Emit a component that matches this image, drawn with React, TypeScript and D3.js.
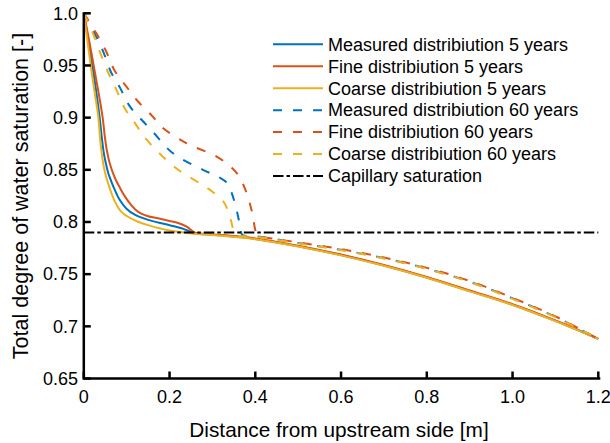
import * as d3 from "d3";

// distance [m], saturation [-]
const measured5: [number, number][] = [
  [0, 1], [0.01, 0.975], [0.02, 0.95], [0.029, 0.925], [0.037, 0.9], [0.042, 0.881],
  [0.046, 0.868], [0.051, 0.857], [0.057, 0.847], [0.064, 0.839], [0.072, 0.831],
  [0.084, 0.821], [0.099, 0.813], [0.119, 0.807], [0.15, 0.802], [0.189, 0.798],
  [0.228, 0.794], [0.259, 0.7893], [0.3, 0.7878], [0.4, 0.7838], [0.5, 0.7768],
  [0.6, 0.7683], [0.7, 0.7583], [0.8, 0.7468], [0.9, 0.7338], [1.0, 0.7207],
  [1.1, 0.7052], [1.2, 0.688],
];
const fine5: [number, number][] = [
  [0, 1], [0.012, 0.975], [0.023, 0.95], [0.034, 0.925], [0.044, 0.9], [0.049, 0.882],
  [0.054, 0.868], [0.06, 0.857], [0.067, 0.848], [0.075, 0.84], [0.084, 0.833],
  [0.095, 0.825], [0.107, 0.818], [0.12, 0.812], [0.134, 0.808], [0.15, 0.8055],
  [0.173, 0.8035], [0.2, 0.801], [0.22, 0.799], [0.24, 0.7955], [0.26, 0.7898],
  [0.3, 0.7883], [0.4, 0.7843], [0.5, 0.7773], [0.6, 0.7688], [0.7, 0.7588],
  [0.8, 0.7473], [0.9, 0.7343], [1.0, 0.7212], [1.1, 0.7056], [1.2, 0.688],
];
const coarse5: [number, number][] = [
  [0, 1], [0.008, 0.975], [0.016, 0.95], [0.025, 0.925], [0.034, 0.9], [0.038, 0.88],
  [0.042, 0.865], [0.047, 0.852], [0.053, 0.842], [0.06, 0.833], [0.072, 0.82],
  [0.087, 0.81], [0.103, 0.805], [0.125, 0.8005], [0.15, 0.797], [0.197, 0.792],
  [0.251, 0.789], [0.3, 0.7875], [0.4, 0.7835], [0.5, 0.7765], [0.6, 0.768],
  [0.7, 0.758], [0.8, 0.7465], [0.9, 0.7335], [1.0, 0.7205], [1.1, 0.705], [1.2, 0.688],
];
const measured60: [number, number][] = [
  [0, 1], [0.025, 0.981], [0.045, 0.9636], [0.063, 0.944], [0.084, 0.929], [0.107, 0.911],
  [0.138, 0.8965], [0.162, 0.886], [0.208, 0.8658], [0.279, 0.8498], [0.315, 0.843],
  [0.335, 0.837], [0.349, 0.8227], [0.36, 0.805], [0.365, 0.794], [0.37, 0.7875],
  [0.4, 0.7865], [0.5, 0.7798], [0.6, 0.7733], [0.7, 0.7653], [0.8, 0.7553],
  [0.9, 0.7428], [1.0, 0.7268], [1.1, 0.709], [1.2, 0.688],
];
const fine60: [number, number][] = [
  [0, 1], [0.029, 0.981], [0.052, 0.9636], [0.072, 0.945], [0.099, 0.93], [0.126, 0.9157],
  [0.161, 0.901], [0.182, 0.891], [0.24, 0.8754], [0.31, 0.8626], [0.345, 0.852],
  [0.362, 0.844], [0.38, 0.8275], [0.392, 0.81], [0.4, 0.7923], [0.404, 0.7875],
  [0.45, 0.7836], [0.5, 0.7805], [0.6, 0.774], [0.7, 0.766], [0.8, 0.756],
  [0.9, 0.7435], [1.0, 0.7273], [1.1, 0.7095], [1.2, 0.688],
];
const coarse60: [number, number][] = [
  [0, 1], [0.021, 0.981], [0.037, 0.9636], [0.056, 0.944], [0.076, 0.9268], [0.095, 0.9093],
  [0.119, 0.895], [0.147, 0.8786], [0.217, 0.851], [0.271, 0.837], [0.3, 0.829],
  [0.326, 0.8194], [0.341, 0.805], [0.347, 0.795], [0.352, 0.788], [0.4, 0.786],
  [0.5, 0.7795], [0.6, 0.773], [0.7, 0.765], [0.8, 0.755], [0.9, 0.7425],
  [1.0, 0.7263], [1.1, 0.7088], [1.2, 0.688],
];
const capillary: [number, number][] = [[0, 0.79], [1.2, 0.79]];

const xTicks = [0, 0.2, 0.4, 0.6, 0.8, 1.0, 1.2];
const xTickLabels = ["0", "0.2", "0.4", "0.6", "0.8", "1.0", "1.2"];
const yTicks = [0.65, 0.7, 0.75, 0.8, 0.85, 0.9, 0.95, 1.0];
const yTickLabels = ["0.65", "0.7", "0.75", "0.8", "0.85", "0.9", "0.95", "1.0"];

const legendLabels = [
  "Measured distribiution 5 years",
  "Fine distribiution 5 years",
  "Coarse distribiution 5 years",
  "Measured distribiution 60 years",
  "Fine distribiution 60 years",
  "Coarse distribiution 60 years",
  "Capillary saturation",
];

const BLUE = "#0072BD";
const ORANGE = "#D95319";
const YELLOW = "#EDB120";
const DASH = "9,11";
const DASHDOT = "10.5,3,3.5,3";

const series = [
  { data: measured5, color: BLUE, dash: undefined },
  { data: fine5, color: ORANGE, dash: undefined },
  { data: coarse5, color: YELLOW, dash: undefined },
  { data: measured60, color: BLUE, dash: DASH },
  { data: fine60, color: ORANGE, dash: DASH },
  { data: coarse60, color: YELLOW, dash: DASH },
  { data: capillary, color: "#000", dash: DASHDOT },
];

const FONT = "'Liberation Sans', Arial, sans-serif";

export default function App() {
  const x = d3.scaleLinear().domain([0, 1.2]).range([83.8, 598.3]);
  const y = d3.scaleLinear().domain([0.65, 1.0]).range([378.5, 13.3]);
  const line = d3
    .line<[number, number]>()
    .x((d) => x(d[0]))
    .y((d) => y(d[1]))
    .curve(d3.curveCatmullRom.alpha(0.5));

  const x0 = x(0);
  const y0 = y(0.65);

  return (
    <svg
      width={610}
      height={443}
      style={{ position: "absolute", left: 0, top: 0, background: "#fff" }}
      fontFamily={FONT}
    >
      {/* curves */}
      {series.map((s, i) => (
        <path
          key={i}
          d={line(s.data) || ""}
          fill="none"
          stroke={s.color}
          strokeWidth={2}
          strokeDasharray={s.dash}
        />
      ))}

      {/* axes */}
      <line x1={x0} x2={x(1.2) + 2} y1={y0} y2={y0} stroke="#000" strokeWidth={2.5} />
      <line x1={x0} x2={x0} y1={y(1.0) - 1} y2={y0 + 1.2} stroke="#000" strokeWidth={2.5} />
      {xTicks.map((t, i) => (
        <g key={"xt" + i}>
          <line x1={x(t)} x2={x(t)} y1={y0} y2={y0 - 7} stroke="#000" strokeWidth={2.5} />
          <text x={x(t)} y={403} textAnchor="middle" fontSize={18}>
            {xTickLabels[i]}
          </text>
        </g>
      ))}
      {yTicks.map((t, i) => (
        <g key={"yt" + i}>
          <line x1={x0} x2={x0 + 7} y1={y(t)} y2={y(t)} stroke="#000" strokeWidth={2.5} />
          <text x={78} y={y(t)} dy="0.35em" textAnchor="end" fontSize={18}>
            {yTickLabels[i]}
          </text>
        </g>
      ))}

      {/* axis titles */}
      <text x={339} y={437} textAnchor="middle" fontSize={20.8}>
        Distance from upstream side [m]
      </text>
      <text
        transform="translate(28,196) rotate(-90)"
        textAnchor="middle"
        fontSize={21.5}
      >
        Total degree of water saturation [-]
      </text>

      {/* legend */}
      {legendLabels.map((lab, i) => {
        const ly = 44.3 + i * 21.95;
        return (
          <g key={"lg" + i}>
            <line
              x1={273}
              x2={323}
              y1={ly}
              y2={ly}
              stroke={series[i].color}
              strokeWidth={2}
              strokeDasharray={series[i].dash}
            />
            <text x={328} y={ly} dy="0.35em" fontSize={18}>
              {lab}
            </text>
          </g>
        );
      })}
    </svg>
  );
}
